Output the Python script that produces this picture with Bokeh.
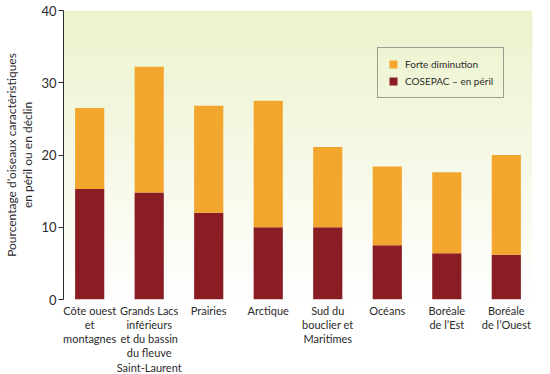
import numpy as np
from bokeh.plotting import figure
from bokeh.models import Range1d, FixedTicker, Legend, LegendItem, ColumnDataSource
from bokeh.embed import file_html
from bokeh.resources import INLINE

regions = ["Côte ouest\net\nmontagnes",
           "Grands Lacs\ninférieurs\net du bassin\ndu fleuve\nSaint-Laurent",
           "Prairies", "Arctique", "Sud du\nbouclier et\nMaritimes", "Océans",
           "Boréale\nde l’Est", "Boréale\nde l’Ouest"]
cosepac = [15.3, 14.8, 12.0, 10.0, 10.0, 7.5, 6.4, 6.2]
total = [26.5, 32.2, 26.8, 27.5, 21.1, 18.4, 17.6, 20.0]
forte = [round(t - c, 1) for t, c in zip(total, cosepac)]
y_ticks = [0, 10, 20, 30, 40]

FONT = "Lato"
C_RED = "#8a1c23"
C_ORANGE = "#f2a62e"
TXT = "#2b2b2b"

xs = list(range(len(regions)))
src = ColumnDataSource(dict(x=xs, cosepac=cosepac, forte=forte))

x0, x1 = -0.44, len(regions) - 1 + 0.44
p = figure(width=534, height=376, output_backend="svg", toolbar_location=None,
           x_range=Range1d(x0, x1), y_range=Range1d(0, 40),
           min_border_left=54, min_border_right=2, min_border_top=10, min_border_bottom=77)
p.outline_line_color = None
p.grid.visible = False
p.background_fill_color = "white"
p.border_fill_color = "white"

# background gradient (light green at top to white at bottom)
n = 200
top = np.array([236, 243, 205], dtype=float)
bot = np.array([255, 255, 255], dtype=float)
t = np.linspace(0, 1, n)[:, None]  # row 0 = bottom
cols = bot * (1 - t) + top * t
img = np.zeros((n, 1), dtype=np.uint32)
view = img.view(dtype=np.uint8).reshape((n, 1, 4))
view[:, 0, 0] = cols[:, 0]
view[:, 0, 1] = cols[:, 1]
view[:, 0, 2] = cols[:, 2]
view[:, 0, 3] = 255
p.image_rgba(image=[img], x=x0, y=0, dw=x1 - x0, dh=40, level="image")

rs = p.vbar_stack(["cosepac", "forte"], x="x", width=0.49, source=src,
                  color=[C_RED, C_ORANGE], line_color=None)

legend = Legend(items=[LegendItem(label="Forte diminution", renderers=[rs[1]]),
                       LegendItem(label="COSEPAC – en péril", renderers=[rs[0]])],
                location=(314, 201), border_line_color="#444444", border_line_width=1,
                background_fill_alpha=0, glyph_width=10, glyph_height=10,
                label_height=12, label_standoff=7, spacing=5, padding=10, margin=0,
                label_text_font=FONT, label_text_font_size="10px", label_text_color=TXT)
p.add_layout(legend)

# y axis
p.yaxis.ticker = FixedTicker(ticks=y_ticks)
p.yaxis.minor_tick_line_color = None
p.yaxis.major_tick_in = 0
p.yaxis.major_tick_out = 5
p.yaxis.axis_line_color = TXT
p.yaxis.major_tick_line_color = TXT
p.yaxis.major_label_text_font = FONT
p.yaxis.major_label_text_font_size = "13px"
p.yaxis.major_label_text_color = TXT
p.yaxis.major_label_standoff = 2
p.yaxis.axis_label = "Pourcentage d’oiseaux caractéristiques\nen péril ou en déclin"
p.yaxis.axis_label_text_font = FONT
p.yaxis.axis_label_text_font_size = "12px"
p.yaxis.axis_label_text_font_style = "normal"
p.yaxis.axis_label_text_color = TXT
p.yaxis.axis_label_text_line_height = 1.1
p.yaxis.axis_label_standoff = 3

# x axis
p.xaxis.ticker = FixedTicker(ticks=xs)
p.xaxis.major_label_overrides = {i: lab for i, lab in enumerate(regions)}
p.xaxis.axis_line_color = None
p.xaxis.major_tick_line_color = None
p.xaxis.minor_tick_line_color = None
p.xaxis.major_tick_in = 0
p.xaxis.major_tick_out = 0
p.xaxis.major_label_standoff = 4
p.xaxis.major_label_text_font = FONT
p.xaxis.major_label_text_font_size = "11px"
p.xaxis.major_label_text_color = TXT
p.xaxis.major_label_text_line_height = 1.1

open("out.html", "w").write(file_html(p, INLINE))
